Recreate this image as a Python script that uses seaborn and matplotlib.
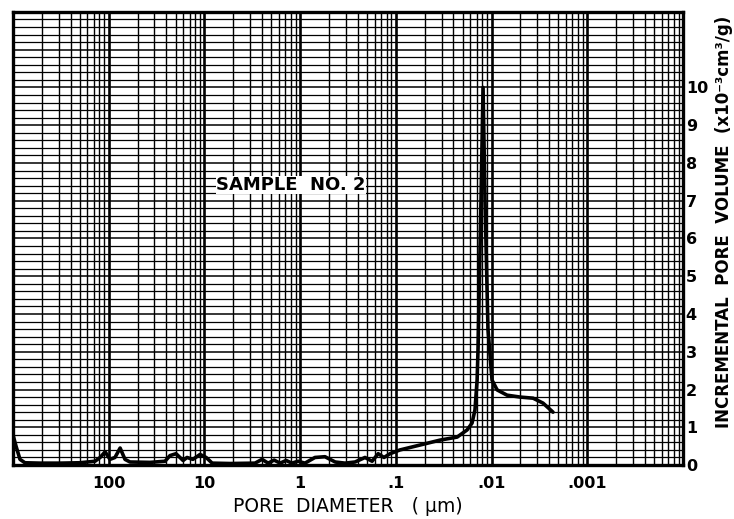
import numpy as np
import seaborn as sns
import matplotlib.pyplot as plt
from matplotlib.ticker import FixedLocator, MultipleLocator, NullFormatter

# pore diameter (um) and incremental pore volume (x10^-3 cm3/g)
diameter = [1000, 930, 845, 750, 520, 323, 200, 139, 123, 109, 97, 86, 76,
            67.6, 59.9, 37, 25.8, 22.9, 19.8, 16.7, 15.2, 13.2, 11.1, 9.6,
            8.3, 5.4, 2.96, 2.5, 2.16, 1.87, 1.62, 1.40, 1.22, 1.05, 0.89,
            0.70, 0.55, 0.43, 0.34, 0.267, 0.21, 0.177, 0.153, 0.133, 0.115,
            0.0904, 0.0558, 0.0345, 0.0229, 0.018, 0.016, 0.0149, 0.01416,
            0.01383, 0.0129, 0.01227, 0.0117, 0.0109, 0.00989, 0.00875,
            0.00689, 0.00504, 0.00368, 0.0029, 0.00228]
volume = [0.8, 0.5, 0.15, 0.06, 0.05, 0.05, 0.06, 0.1, 0.2, 0.35, 0.15, 0.2,
          0.45, 0.15, 0.08, 0.07, 0.1, 0.25, 0.3, 0.12, 0.2, 0.15, 0.28, 0.2,
          0.05, 0.04, 0.05, 0.15, 0.05, 0.13, 0.05, 0.12, 0.05, 0.1, 0.05,
          0.2, 0.22, 0.08, 0.05, 0.08, 0.2, 0.1, 0.3, 0.2, 0.3,
          0.4, 0.53, 0.66, 0.74, 0.93, 1.11, 1.46, 2.25,
          3.1, 7.0, 10.0, 7.0, 3.6, 2.25, 1.99,
          1.85, 1.8, 1.77, 1.64, 1.4]

x_ticks = [100, 10, 1, 0.1, 0.01, 0.001]
x_tick_labels = ['100', '10', '1', '.1', '.01', '.001']
y_ticks = list(range(13))
y_tick_labels = [str(i) for i in range(11)] + ['', '']

sns.set_style("white")
plt.rcParams['font.family'] = ['DejaVu Sans']
for key in ['text.color', 'axes.labelcolor', 'xtick.color', 'ytick.color']:
    plt.rcParams[key] = 'black'

fig, ax = plt.subplots(figsize=(7.34, 5.19), dpi=100)
fig.subplots_adjust(left=0.0177, right=0.9305, bottom=0.104, top=0.977)

sns.lineplot(x=diameter, y=volume, ax=ax, color='black', lw=2.6,
             sort=False, estimator=None)

ax.set_xscale('log')
ax.set_xlim(1000, 1e-4)
ax.set_ylim(0, 12)

# log paper: decade lines plus 2..9 lines in each printed cycle
decades = [10.0 ** n for n in range(3, -4, -1)]
minor_x = [d / k for d in decades for k in range(2, 10)]
ax.xaxis.set_major_locator(FixedLocator(x_ticks))
ax.set_xticklabels(x_tick_labels)
ax.xaxis.set_minor_locator(FixedLocator(minor_x))
ax.xaxis.set_minor_formatter(NullFormatter())

ax.yaxis.tick_right()
ax.yaxis.set_label_position('right')
ax.set_yticks(y_ticks)
ax.set_yticklabels(y_tick_labels)
ax.yaxis.set_minor_locator(MultipleLocator(0.2))

ax.grid(True, which='major', axis='x', color='black', lw=1.9)
ax.grid(True, which='minor', axis='x', color='black', lw=1.0)
ax.grid(True, which='major', axis='y', color='black', lw=1.1)
ax.grid(True, which='minor', axis='y', color='black', lw=0.9)
ax.set_axisbelow(True)

ax.tick_params(axis='both', which='both', length=0)
ax.tick_params(axis='x', pad=8, labelsize=11.5)
ax.tick_params(axis='y', pad=2, labelsize=11.5)
for lab in ax.get_xticklabels() + ax.get_yticklabels():
    lab.set_fontweight('bold')

for side in ['left', 'right', 'top', 'bottom']:
    ax.spines[side].set_visible(True)
    ax.spines[side].set_color('black')
    ax.spines[side].set_linewidth(2.4)

ax.set_xlabel("PORE  DIAMETER   ( \u03bcm)", fontsize=13.5, labelpad=4)
ax.set_ylabel("INCREMENTAL  PORE  VOLUME  (x10\u207b\u00b3cm\u00b3/g)",
              fontsize=12, fontweight='bold', rotation=90,
              va='center', ha='center')
ax.yaxis.set_label_coords(1.061, 0.536)

ax.text(1.25, 7.42, "SAMPLE  NO. 2", fontsize=13, fontweight='bold',
        ha='center', va='center',
        bbox=dict(facecolor='white', edgecolor='none', pad=0.3))

plt.savefig('out.png', dpi=100)
